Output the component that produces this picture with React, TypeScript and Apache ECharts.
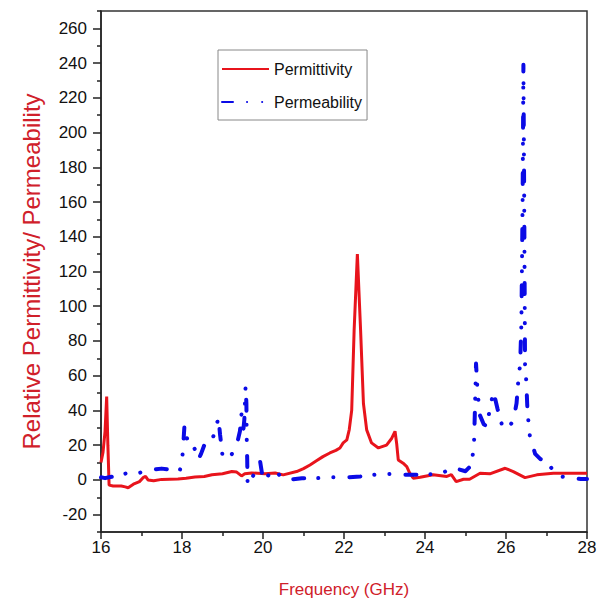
import React, { useEffect, useRef } from 'react';
import * as echarts from 'echarts';

// Frequency (GHz) and relative permittivity
const permittivityFreq = [
  16.0, 16.05, 16.1, 16.14, 16.17, 16.2, 16.3, 16.5, 16.6, 16.67, 16.8, 16.95, 17.05, 17.1, 17.16,
  17.3, 17.5, 17.9, 18.1, 18.32, 18.55, 18.74, 19.0, 19.23, 19.35, 19.47, 19.55, 19.72, 20.05, 20.3,
  20.5, 20.83, 21.0, 21.16, 21.32, 21.48, 21.65, 21.8, 21.9, 21.98, 22.07, 22.13, 22.19, 22.25, 22.33,
  22.41, 22.48, 22.56, 22.68, 22.85, 23.05, 23.18, 23.26, 23.3, 23.34, 23.46, 23.55, 23.62, 23.71,
  23.88, 24.2, 24.54, 24.65, 24.77, 24.95, 25.1, 25.36, 25.6, 25.98, 26.18, 26.47, 26.76, 27.17, 28.0,
];
const permittivityVal = [
  10, 16, 28, 48, 20, -3, -3.5, -3.5, -4, -4.5, -2.5, -1, 1.5, 2, 0,
  -0.5, 0.3, 0.5, 1, 1.7, 2, 3, 3.5, 4.8, 4.5, 2.3, 3.5, 4, 3.5, 4,
  2.9, 4.8, 6.5, 8.6, 11, 13.4, 15.5, 17, 18.4, 21.3, 23, 29, 40, 86, 130,
  86, 44, 28.8, 21.3, 18.4, 20, 24, 28, 21, 11.5, 9.6, 7.7, 4, 1,
  1.5, 3, 2, 3, -1, 0.4, 0.4, 3.8, 3.5, 6.7, 4.8, 1.3, 2.9, 3.8, 3.8,
];

// Frequency (GHz) and relative permeability
const permeabilityFreq = [
  16.0, 16.1, 16.2, 16.4, 16.67, 16.85, 17.04, 17.2, 17.33, 17.5, 17.65, 17.8, 17.95, 18.0, 18.03,
  18.06, 18.1, 18.17, 18.27, 18.33, 18.4, 18.47, 18.55, 18.65, 18.74, 18.82, 18.9, 18.94, 19.0, 19.1,
  19.2, 19.25, 19.35, 19.43, 19.47, 19.5, 19.54, 19.57, 19.59, 19.6, 19.61, 19.62, 19.66, 19.72, 19.8,
  19.93, 20.0, 20.15, 20.3, 20.45, 20.6, 20.96, 21.33, 21.7, 22.1, 22.4, 22.77, 23.2, 23.45, 23.83,
  24.2, 24.45, 24.6, 24.75, 24.85, 25.0, 25.15, 25.21, 25.23, 25.26, 25.3, 25.36, 25.45, 25.52, 25.63,
  25.69, 25.79, 25.92, 26.05, 26.18, 26.26, 26.3, 26.35, 26.38, 26.41, 26.43, 26.45, 26.47, 26.5, 26.53,
  26.56, 26.59, 26.72, 26.85, 27.0, 27.15, 27.33, 27.5, 27.65, 27.85, 28.0,
];
const permeabilityVal = [
  1.5, 1, 1.5, 2.5, 4, 3.5, 4.6, 5, 6, 6.5, 6, 5, 5.8, 10, 20,
  31, 26, 20, 20, 17, 11.5, 15, 20, 21, 23, 28, 36, 26, 14, 12,
  13, 16, 20, 28, 38, 25, 35, 54, 44, 21, 12, -3, -1, 1, 4,
  10.5, 0, 3, 5.8, 1.5, 0, 1, 1, 1.5, 1.5, 2, 3, 3.5, 3, 3,
  3.3, 4, 6.5, 7, 6, 5, 8.6, 21, 38, 67, 50, 37, 32, 31, 44,
  51, 41, 30, 30, 34, 44, 56, 67, 90, 160, 239, 160, 67, 57, 40,
  32, 25, 15, 12, 10.5, 6, 2, 1.5, 1, 0.5, 0.5,
];

const yLabelValues = [-20, 0, 20, 40, 60, 80, 100, 120, 140, 160, 180, 200, 220, 240, 260];
const yMinorValues = [-30, -10, 10, 30, 50, 70, 90, 110, 130, 150, 170, 190, 210, 230, 250, 270];

const FONT = "Arial, 'Liberation Sans', sans-serif";

export default function App() {
  const ref = useRef<HTMLDivElement>(null);
  useEffect(() => {
    if (!ref.current) return;
    const chart = echarts.init(ref.current, null, { renderer: 'svg' });
    const axisColor = '#222';
    chart.setOption({
      animation: false,
      backgroundColor: '#fff',
      grid: {
        left: 101, right: 18, top: 11, bottom: 74,
        show: true, borderColor: '#333', borderWidth: 1.5, backgroundColor: 'transparent',
      },
      legend: {
        left: 218, top: 50, orient: 'vertical',
        itemWidth: 47, itemHeight: 16, itemGap: 17,
        padding: [11, 5, 10, 3],
        borderColor: '#888', borderWidth: 1, backgroundColor: '#fff',
        itemStyle: { color: 'rgba(0,0,0,0)', borderWidth: 0 },
        textStyle: { fontSize: 16, color: '#111', fontFamily: FONT },
        data: ['Permittivity', 'Permeability'],
      },
      xAxis: {
        type: 'value', min: 16, max: 28, interval: 2,
        axisLine: { show: true, onZero: false, lineStyle: { color: axisColor, width: 1.5 } },
        axisTick: { show: true, length: 7, lineStyle: { color: axisColor, width: 1.5 } },
        minorTick: { show: true, splitNumber: 2, length: 4, lineStyle: { color: axisColor, width: 1.5 } },
        splitLine: { show: false },
        minorSplitLine: { show: false },
        axisLabel: { color: '#111', fontSize: 17, fontFamily: FONT, margin: 7 },
        name: 'Frequency (GHz)', nameLocation: 'middle', nameGap: 49,
        nameTextStyle: { color: '#d0202a', fontSize: 17, fontFamily: FONT },
      },
      yAxis: [
        {
          type: 'value', min: -30, max: 270,
          axisLine: { show: true, onZero: false, lineStyle: { color: axisColor, width: 1.5 } },
          axisTick: { show: true, length: 8, customValues: yLabelValues, lineStyle: { color: axisColor, width: 1.5 } },
          axisLabel: { customValues: yLabelValues, color: '#111', fontSize: 17, fontFamily: FONT, margin: 14 },
          splitLine: { show: false },
          name: 'Relative Permittivity/ Permeability', nameLocation: 'middle', nameGap: 58, nameRotate: 90,
          nameTextStyle: { color: '#d0202a', fontSize: 24, fontFamily: FONT },
        },
        {
          type: 'value', min: -30, max: 270, position: 'left',
          axisLine: { show: false },
          axisTick: { show: true, length: 4, customValues: yMinorValues, lineStyle: { color: axisColor, width: 1.5 } },
          axisLabel: { show: false },
          splitLine: { show: false },
        },
      ],
      series: [
        {
          name: 'Permittivity', type: 'line', symbol: 'none', z: 2,
          data: permittivityFreq.map((f, i) => [f, permittivityVal[i]]),
          lineStyle: { color: '#e8141c', width: 3 },
          itemStyle: { color: '#e8141c' },
        },
        {
          name: 'Permeability', type: 'line', symbol: 'none', z: 3,
          data: permeabilityFreq.map((f, i) => [f, permeabilityVal[i]]),
          lineStyle: { color: '#0b0be6', width: 4, type: [11, 14, 0.1, 15, 0.1, 16], cap: 'round', join: 'round' },
          itemStyle: { color: '#0b0be6' },
        },
      ],
    });
    return () => chart.dispose();
  }, []);
  return (
    <div
      ref={ref}
      style={{ position: 'fixed', left: 0, top: 0, width: 605, height: 606, background: '#fff' }}
    />
  );
}
